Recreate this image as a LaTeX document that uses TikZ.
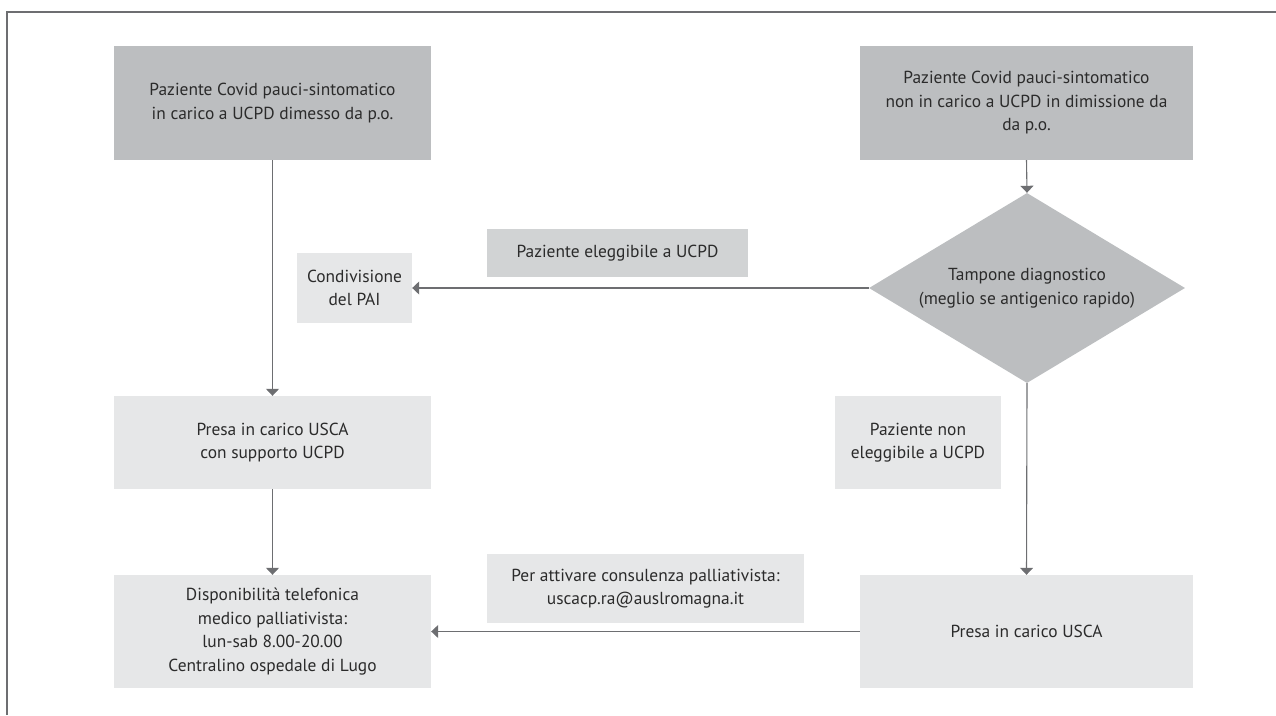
\documentclass[tikz,border=0pt]{standalone}
\usepackage{fontspec}
\setmainfont{PT Sans}
\usetikzlibrary{shapes.geometric,arrows.meta}
\definecolor{darkbox}{HTML}{BCBEC0}
\definecolor{lightbox}{HTML}{E6E7E8}
\definecolor{midbox}{HTML}{D1D3D4}
\definecolor{linegray}{HTML}{6D6E71}
\definecolor{txt}{HTML}{2B2B2B}
\tikzset{
  boxbase/.style={rectangle, inner sep=0pt, align=center, text=txt,
    font=\fontsize{17.4}{23.5}\selectfont},
  darkrect/.style={boxbase, fill=darkbox},
  lightrect/.style={boxbase, fill=lightbox},
  midrect/.style={boxbase, fill=midbox},
  decision/.style={diamond, inner sep=0pt, aspect=1.663, fill=darkbox, text=txt,
    align=center, font=\fontsize{17.4}{23.5}\selectfont,
    minimum width=316pt, minimum height=190pt},
  conn/.style={draw=linegray, line width=1.1pt,
    -{Triangle[width=13pt,length=7pt,fill=linegray]}},
  frameline/.style={draw=linegray, line width=1.4pt}
}
\begin{document}
\begin{tikzpicture}[x=1pt,y=-1pt]
\useasboundingbox (0,0) rectangle (1276,715);
\draw[frameline] (7,715) -- (7,12) -- (1276,12);

\node[darkrect, minimum width=317pt, minimum height=114pt] (a) at (272.5,103)
  {Paziente Covid pauci-sintomatico\\in carico a UCPD dimesso da p.o.};
\node[darkrect, minimum width=333pt, minimum height=114pt] (b) at (1026.5,103)
  {Paziente Covid pauci-sintomatico\\non in carico a UCPD in dimissione da\\da p.o.};
\node[decision] (d) at (1027,288)
  {Tampone diagnostico\\(meglio se antigenico rapido)};
\node[lightrect, minimum width=115pt, minimum height=70pt] (c) at (354.5,288)
  {Condivisione\\del PAI};
\node[midrect, minimum width=261pt, minimum height=48pt] (e) at (617.5,253)
  {Paziente eleggibile a UCPD};
\node[lightrect, minimum width=317pt, minimum height=93pt] (f) at (272.5,442.5)
  {Presa in carico USCA\\con supporto UCPD};
\node[lightrect, minimum width=317pt, minimum height=113pt] (g) at (272.5,631.5)
  {Disponibilità telefonica\\medico palliativista:\\lun-sab 8.00-20.00\\Centralino ospedale di Lugo};
\node[lightrect, minimum width=317pt, minimum height=69pt] (h) at (645.5,588.5)
  {Per attivare consulenza palliativista:\\uscacp.ra@auslromagna.it};
\node[lightrect, minimum width=333pt, minimum height=113pt] (i) at (1026.5,631.5)
  {Presa in carico USCA};
\node[lightrect, minimum width=166pt, minimum height=93pt] (j) at (918,442.5)
  {Paziente non\\eleggibile a UCPD};

\draw[conn] (a.south) -- (f.north);
\draw[conn] (f.south) -- (g.north);
\draw[conn] (b.south) -- (d.north);
\draw[conn] (d.west) -- (c.east);
\draw[conn] (d.south) -- (i.north);
\draw[conn] (i.west) -- (g.east);
\end{tikzpicture}
\end{document}
